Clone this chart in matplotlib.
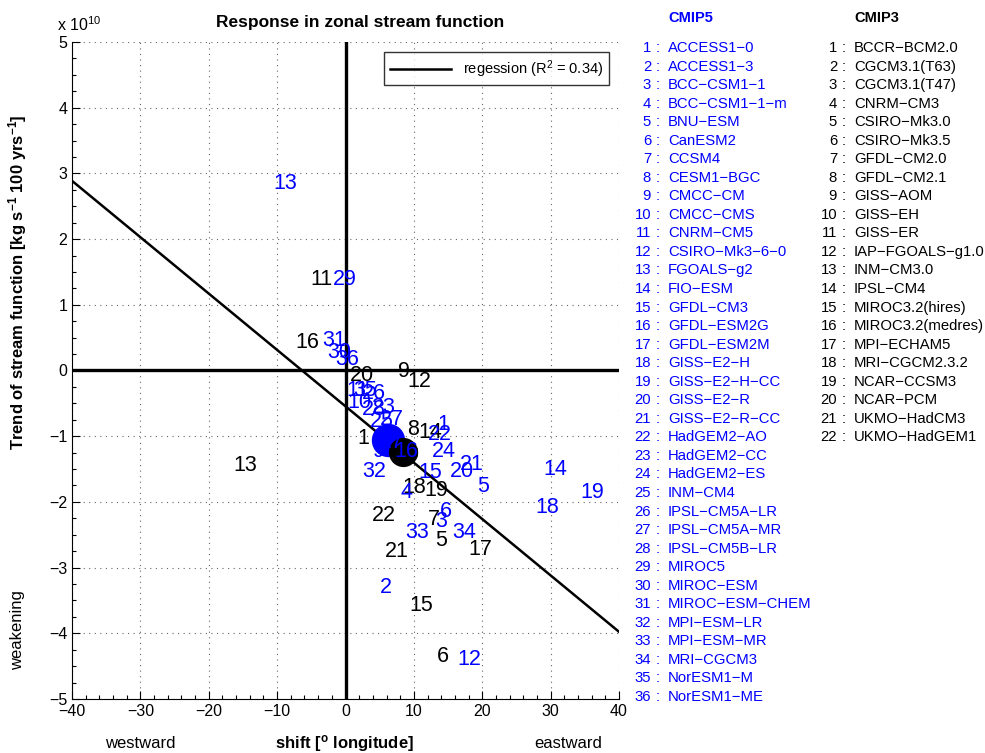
import matplotlib
matplotlib.use("Agg")
import matplotlib.pyplot as plt
from matplotlib.ticker import MultipleLocator

plt.rcParams['font.family'] = ['Liberation Sans', 'DejaVu Sans']
plt.rcParams['mathtext.fontset'] = 'custom'
plt.rcParams['mathtext.rm'] = 'Liberation Sans'
plt.rcParams['mathtext.it'] = 'Liberation Sans:italic'
plt.rcParams['mathtext.bf'] = 'Liberation Sans:bold'

# ---------------- data (shift in deg longitude, trend in 1e10 kg s-1 per 100 yrs) ----
cmip5_names = ["ACCESS1−0", "ACCESS1−3", "BCC−CSM1−1", "BCC−CSM1−1−m", "BNU−ESM",
               "CanESM2", "CCSM4", "CESM1−BGC", "CMCC−CM", "CMCC−CMS", "CNRM−CM5",
               "CSIRO−Mk3−6−0", "FGOALS−g2", "FIO−ESM", "GFDL−CM3", "GFDL−ESM2G",
               "GFDL−ESM2M", "GISS−E2−H", "GISS−E2−H−CC", "GISS−E2−R", "GISS−E2−R−CC",
               "HadGEM2−AO", "HadGEM2−CC", "HadGEM2−ES", "INM−CM4", "IPSL−CM5A−LR",
               "IPSL−CM5A−MR", "IPSL−CM5B−LR", "MIROC5", "MIROC−ESM", "MIROC−ESM−CHEM",
               "MPI−ESM−LR", "MPI−ESM−MR", "MRI−CGCM3", "NorESM1−M", "NorESM1−ME"]
cmip5_shift = [13.5, 5.0, 13.1, 8.0, 19.2, 13.8, 5.0, 5.5, 4.0, 0.3, 0.2,
               16.3, -10.6, 28.9, 10.6, 7.2, 5.0, 27.7, 34.3, 15.3, 16.7,
               12.1, 3.9, 12.6, 3.6, 2.4, 5.0, 2.4, -1.8, -2.7, -3.4,
               2.4, 8.7, 15.6, 1.2, -1.5]
cmip5_trend = [-0.82, -3.30, -2.30, -1.86, -1.77, -2.15, -1.10, -1.00, -1.24, -0.48, -0.30,
               -4.40, 2.85, -1.51, -1.56, -1.24, -1.10, -2.08, -1.85, -1.53, -1.43,
               -0.98, -0.57, -1.24, -0.78, -0.35, -0.75, -0.60, 1.38, 0.28, 0.46,
               -1.54, -2.46, -2.46, -0.30, 0.16]

cmip3_names = ["BCCR−BCM2.0", "CGCM3.1(T63)", "CGCM3.1(T47)", "CNRM−CM3", "CSIRO−Mk3.0",
               "CSIRO−Mk3.5", "GFDL−CM2.0", "GFDL−CM2.1", "GISS−AOM", "GISS−EH", "GISS−ER",
               "IAP−FGOALS−g1.0", "INM−CM3.0", "IPSL−CM4", "MIROC3.2(hires)",
               "MIROC3.2(medres)", "MPI−ECHAM5", "MRI−CGCM2.3.2", "NCAR−CCSM3", "NCAR−PCM",
               "UKMO−HadCM3", "UKMO−HadGEM1"]
cmip3_shift = [1.7, 7.6, 7.9, 8.2, 13.1, 13.4, 12.1, 9.0, 7.7, 7.3, -5.2,
               9.1, -16.4, 10.6, 9.4, -7.4, 17.9, 8.3, 11.6, 0.7, 5.8, 3.9]
cmip3_trend = [-1.03, -1.22, -1.30, -1.26, -2.58, -4.36, -2.27, -0.90, -0.02, -1.28, 1.38,
               -0.17, -1.44, -0.95, -3.58, 0.42, -2.73, -1.78, -1.82, -0.08, -2.76, -2.20]

mean5 = (6.2, -1.06)   # CMIP5 ensemble mean
mean3 = (8.4, -1.24)   # CMIP3 ensemble mean
reg_slope = -0.0858
reg_intercept = -0.545
reg_label = r"regession (R$^2$ = 0.34)"

BLUE = (0, 0, 1)

# ---------------- figure ----------------
W, H = 985, 753
fig = plt.figure(figsize=(W / 100, H / 100), dpi=100)
ax = fig.add_axes([72 / W, 1 - 699 / H, (619 - 72) / W, (699 - 42) / H])

ax.set_xlim(-40, 40)
ax.set_ylim(-5, 5)
ax.set_xticks(range(-40, 41, 10))
ax.set_yticks(range(-5, 6))
ax.xaxis.set_minor_locator(MultipleLocator(2))
ax.yaxis.set_minor_locator(MultipleLocator(0.25))
ax.tick_params(which='both', direction='in', top=False, right=False, labelsize=11.5,
               colors='black', width=0.8)
ax.tick_params(which='major', length=6)
ax.tick_params(which='minor', length=3)
ax.spines['top'].set_visible(False)
ax.spines['right'].set_visible(False)
ax.grid(True, linestyle=(0, (1, 4)), color='0.4', linewidth=0.8)
ax.set_axisbelow(True)

ax.axvline(0, color='black', lw=2.4, zorder=1)
ax.axhline(0, color='black', lw=2.4, zorder=1)

xr = [-40, 40]
ax.plot(xr, [reg_slope * v + reg_intercept for v in xr], color='black', lw=1.8,
        label=reg_label, zorder=2)

ax.plot([mean5[0]], [mean5[1]], 'o', color=BLUE, ms=23, zorder=2)
ax.plot([mean3[0]], [mean3[1]], 'o', color='black', ms=20, zorder=2)

for i, (x, y) in enumerate(zip(cmip3_shift, cmip3_trend)):
    ax.text(x, y, str(i + 1), color='black', fontsize=15.5, ha='left', va='center', zorder=3)
for i, (x, y) in enumerate(zip(cmip5_shift, cmip5_trend)):
    ax.text(x, y, str(i + 1), color=BLUE, fontsize=15.5, ha='left', va='center', zorder=3)

leg = ax.legend(loc='upper right', fontsize=10.5, frameon=True, fancybox=False,
                handlelength=4.2, borderaxespad=0.7, borderpad=0.4)
leg.get_frame().set_edgecolor('black')
leg.get_frame().set_linewidth(1.0)

# titles & labels
fig.text(360 / W, 1 - 22 / H, "Response in zonal stream function", ha='center', va='center',
         fontsize=12.5, fontweight='bold')
fig.text(57 / W, 1 - 25 / H, r"x 10$^{10}$", ha='left', va='center', fontsize=11.5)
fig.text(18 / W, 1 - 282 / H, r"Trend of stream function [kg s$^{\mathbf{-1}}$ 100 yrs$^{\mathbf{-1}}$]",
         rotation=90, ha='center', va='center', fontsize=12, fontweight='bold')
fig.text(18 / W, 1 - 630 / H, "weakening", rotation=90, ha='center', va='center', fontsize=12)
fig.text(345 / W, 1 - 743 / H, r"shift [$^{\mathbf{o}}$ longitude]", ha='center', va='center',
         fontsize=12, fontweight='bold')
fig.text(140 / W, 1 - 744 / H, "westward", ha='center', va='center', fontsize=12)
fig.text(568 / W, 1 - 744 / H, "eastward", ha='center', va='center', fontsize=12)

# model lists
step = 18.54
fig.text(668 / W, 1 - 18 / H, "CMIP5", color=BLUE, fontweight='bold', fontsize=10.5,
         ha='left', va='center')
for i, name in enumerate(cmip5_names):
    yy = 1 - (48 + i * step) / H
    fig.text(651 / W, yy, str(i + 1), color=BLUE, fontsize=10.7, ha='right', va='center')
    fig.text(656 / W, yy, ":", color=BLUE, fontsize=10.7, ha='left', va='center')
    fig.text(668 / W, yy, name, color=BLUE, fontsize=10.7, ha='left', va='center')

fig.text(854 / W, 1 - 18 / H, "CMIP3", color='black', fontweight='bold', fontsize=10.5,
         ha='left', va='center')
for i, name in enumerate(cmip3_names):
    yy = 1 - (48 + i * step) / H
    fig.text(837 / W, yy, str(i + 1), color='black', fontsize=10.7, ha='right', va='center')
    fig.text(842 / W, yy, ":", color='black', fontsize=10.7, ha='left', va='center')
    fig.text(854 / W, yy, name, color='black', fontsize=10.7, ha='left', va='center')

fig.savefig("out.png", dpi=100)
